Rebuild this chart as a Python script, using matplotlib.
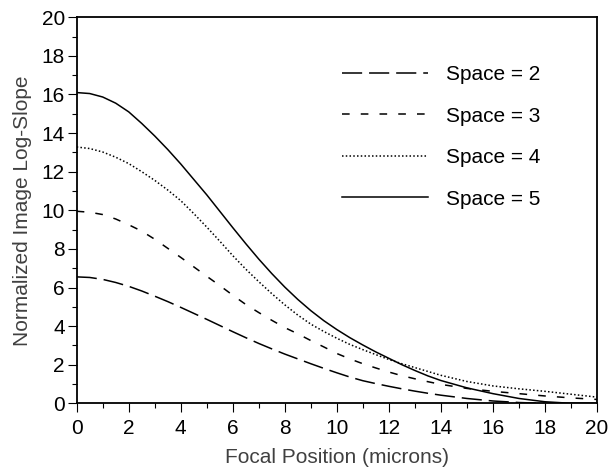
import numpy as np
import matplotlib
matplotlib.use("Agg")
from matplotlib import pyplot as plt
from matplotlib.ticker import MultipleLocator

plt.rcParams['font.family'] = ['Liberation Sans', 'DejaVu Sans']
plt.rcParams['lines.scale_dashes'] = False

# focal position (microns) and normalized image log-slope
focus = [0, 0.5, 1, 1.5, 2, 2.5, 3, 3.5, 4, 4.5, 5, 5.5, 6, 6.5, 7, 7.5, 8, 8.5, 9, 9.5,
         10, 10.5, 11, 11.5, 12, 12.5, 13, 13.5, 14, 15, 16, 17, 18, 19, 20]
space2 = [6.55, 6.52, 6.42, 6.26, 6.06, 5.82, 5.55, 5.27, 4.97, 4.66, 4.35, 4.03, 3.71,
          3.4, 3.1, 2.82, 2.55, 2.3, 2.05, 1.81, 1.58, 1.36, 1.17, 1.02, 0.88, 0.75,
          0.63, 0.52, 0.42, 0.25, 0.12, 0.04, 0.0, 0.0, 0.0]
space3 = [9.95, 9.9, 9.78, 9.55, 9.25, 8.92, 8.5, 8.03, 7.56, 7.07, 6.58, 6.1, 5.6,
          5.12, 4.7, 4.3, 3.92, 3.6, 3.25, 2.92, 2.58, 2.3, 2.05, 1.83, 1.62, 1.43,
          1.27, 1.12, 0.98, 0.77, 0.62, 0.5, 0.38, 0.28, 0.2]
space4 = [13.28, 13.2, 13.02, 12.75, 12.42, 12.0, 11.55, 11.05, 10.5, 9.83, 9.13, 8.4,
          7.65, 6.95, 6.3, 5.68, 5.1, 4.57, 4.1, 3.72, 3.37, 3.05, 2.78, 2.52, 2.27,
          2.05, 1.85, 1.65, 1.45, 1.13, 0.9, 0.75, 0.62, 0.47, 0.32]
space5 = [16.1, 16.05, 15.87, 15.55, 15.1, 14.5, 13.85, 13.15, 12.4, 11.6, 10.8, 9.95,
          9.1, 8.27, 7.47, 6.72, 6.02, 5.38, 4.8, 4.28, 3.82, 3.4, 3.02, 2.66, 2.33,
          2.0, 1.7, 1.42, 1.18, 0.8, 0.5, 0.25, 0.08, 0.0, 0.0]
labels = ['Space = 2', 'Space = 3', 'Space = 4', 'Space = 5']

fig = plt.figure(figsize=(6.1, 4.73), dpi=100)
ax = fig.add_axes([76.7/610, 1-403.3/473, (597-76.7)/610, (403.3-17.3)/473])

ax.plot(focus, space2, color='black', lw=1.1, ls=(0, (14.5, 5)), label=labels[0])
ax.plot(focus, space3, color='black', lw=1.1, ls=(0, (5.5, 8)), label=labels[1])
ax.plot(focus, space4, color='black', lw=1.1, ls=(0, (1.1, 1.6)), label=labels[2])
ax.plot(focus, space5, color='black', lw=1.1, ls='-', label=labels[3])

ax.set_xlim(0, 20)
ax.set_ylim(0, 20)
ax.xaxis.set_major_locator(MultipleLocator(2))
ax.xaxis.set_minor_locator(MultipleLocator(1))
ax.yaxis.set_major_locator(MultipleLocator(2))
ax.yaxis.set_minor_locator(MultipleLocator(1))
ax.tick_params(which='major', length=6.5, width=0.8, labelsize=15, direction='out')
ax.tick_params(which='minor', length=3.6, width=0.8, direction='out')
ax.tick_params(axis='x', pad=5)
ax.tick_params(axis='y', pad=2)
for s in ax.spines.values():
    s.set_linewidth(1.3)

ax.set_xlabel('Focal Position (microns)', fontsize=15, color='#404040', labelpad=7)
ax.set_ylabel('Normalized Image Log-Slope', fontsize=15, color='#404040', labelpad=7)

ax.legend(loc='upper left', bbox_to_anchor=(0.51, 0.876), frameon=False, fontsize=15,
          handlelength=4.13, handletextpad=0.87, labelspacing=1.08, borderpad=0,
          borderaxespad=0)

plt.savefig('out.png', dpi=100)
